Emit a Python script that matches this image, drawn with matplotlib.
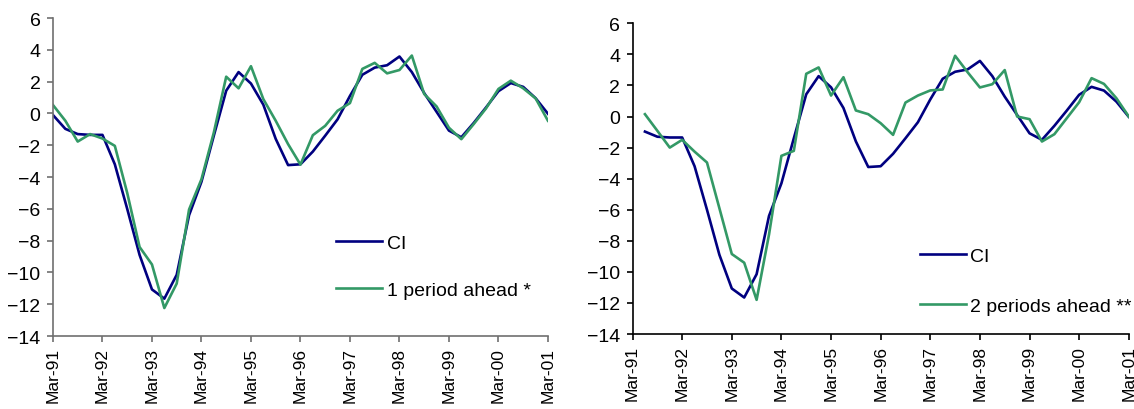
import numpy as np
import matplotlib
matplotlib.use("Agg")
import matplotlib.pyplot as plt

plt.rcParams["font.family"] = ["Liberation Sans", "DejaVu Sans"]

# ── Data (quarterly, Mar-91 .. Mar-01) ────────────────────────────────────
YEAR_LABELS = ["Mar-91", "Mar-92", "Mar-93", "Mar-94", "Mar-95", "Mar-96",
               "Mar-97", "Mar-98", "Mar-99", "Mar-00", "Mar-01"]

CI = [-0.10, -0.97, -1.30, -1.35, -1.35, -3.20, -6.00, -8.90, -11.07, -11.65,
      -10.15, -6.40, -4.30, -1.40, 1.43, 2.60, 1.88, 0.55, -1.60, -3.25,
      -3.20, -2.40, -1.40, -0.37, 1.10, 2.43, 2.88, 3.03, 3.58, 2.60,
      1.28, 0.10, -1.08, -1.50, -0.60, 0.38, 1.40, 1.91, 1.67, 0.96,
      -0.02]

AHEAD_1 = [0.53, -0.46, -1.77, -1.30, -1.58, -2.04, -5.00, -8.40, -9.50, -12.24,
           -10.70, -6.04, -4.14, -1.20, 2.31, 1.58, 2.97, 0.90, -0.46, -1.93,
           -3.22, -1.37, -0.78, 0.17, 0.65, 2.80, 3.18, 2.52, 2.73, 3.64,
           1.22, 0.44, -0.90, -1.62, -0.67, 0.32, 1.54, 2.06, 1.58, 0.95,
           -0.46]

# 2-period-ahead series starts in Jun-91
AHEAD_2 = [0.15, -0.92, -2.00, -1.50, -2.26, -2.96, -5.90, -8.85, -9.41,
           -11.80, -7.60, -2.53, -2.21, 2.75, 3.16, 1.35, 2.53, 0.39, 0.15,
           -0.43, -1.18, 0.90, 1.35, 1.68, 1.74, 3.91, 2.86, 1.87, 2.08,
           2.99, 0.00, -0.17, -1.61, -1.14, -0.11, 0.92, 2.47, 2.10, 1.18,
           0.00]

NAVY = "#000080"
GREEN = "#339966"


def style_axes(ax, spine_color):
    ax.set_xlim(0, len(CI) - 1)
    ax.set_ylim(-14, 6)
    ax.set_yticks(np.arange(-14, 7, 2))
    ax.set_xticks(np.arange(0, len(CI), 4))
    ax.set_xticklabels(YEAR_LABELS, rotation=90)
    for s in ("top", "right"):
        ax.spines[s].set_visible(False)
    for s in ("left", "bottom"):
        ax.spines[s].set_color(spine_color)
        ax.spines[s].set_linewidth(1.2)
    ax.tick_params(axis="y", direction="out", length=4, width=1.2,
                   color=spine_color, labelsize=14, pad=5)
    ax.tick_params(axis="x", direction="out", length=4, width=1.2,
                   color=spine_color, labelsize=12.5, pad=4)


fig = plt.figure(figsize=(11.34, 4.10), dpi=100)

# ── Left panel: 1 period ahead ─────────────────────────────────────────────
ax1 = fig.add_axes([0.0467, 0.178, 0.4365, 0.7756])
x_all = np.arange(len(CI))
ax1.plot(x_all, CI, color=NAVY, lw=1.9, label="CI")
ax1.plot(x_all, AHEAD_1, color=GREEN, lw=1.9, label="1 period ahead *")
style_axes(ax1, "#707070")
ax1.legend(loc="upper left", bbox_to_anchor=(0.572, 0.32), frameon=False,
           fontsize=14, handlelength=2.35, handletextpad=0.25,
           labelspacing=1.5, borderpad=0, borderaxespad=0)

# ── Right panel: 2 periods ahead ───────────────────────────────────────────
ax2 = fig.add_axes([0.5578, 0.1829, 0.4376, 0.7578])
ax2.plot(x_all[1:], CI[1:], color=NAVY, lw=1.9, label="CI")
ax2.plot(x_all[1:], AHEAD_2, color=GREEN, lw=1.9, label="2 periods ahead **")
style_axes(ax2, "black")
ax2.legend(loc="upper left", bbox_to_anchor=(0.579, 0.278), frameon=False,
           fontsize=14, handlelength=2.35, handletextpad=0.25,
           labelspacing=1.65, borderpad=0, borderaxespad=0)

fig.savefig("out.png", dpi=100)
